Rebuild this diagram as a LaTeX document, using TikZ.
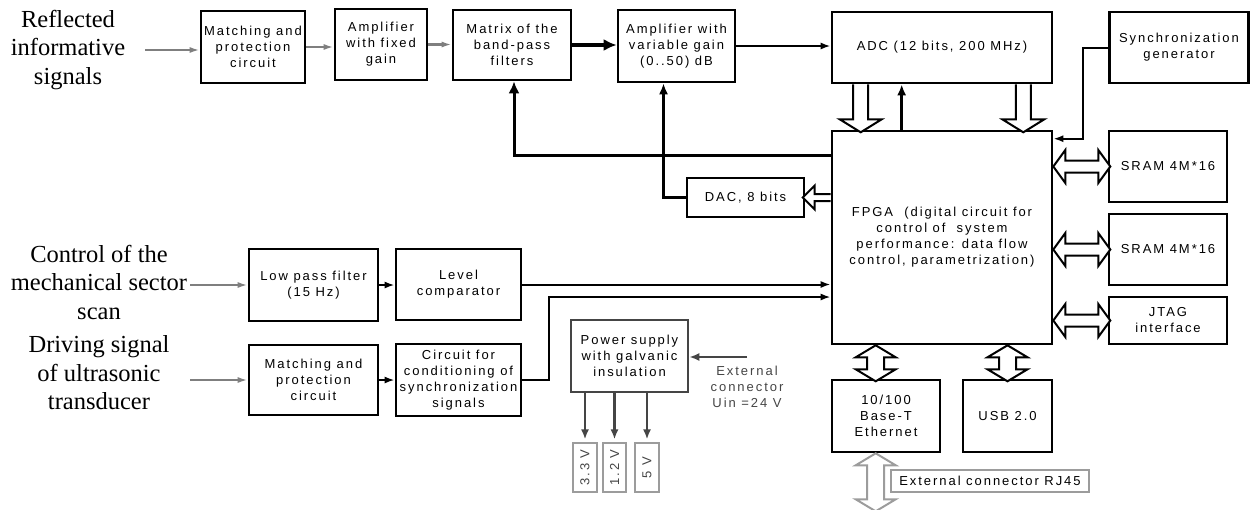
\documentclass[tikz,border=0pt]{standalone}
\usepackage{fontspec}
\setmainfont{Liberation Sans}
\newfontfamily\spacedsans[LetterSpace=15]{Liberation Sans}
\newfontfamily\labelserif{Liberation Serif}
\usetikzlibrary{arrows.meta,calc}
\definecolor{ga}{HTML}{7F7F7F}
\definecolor{dk}{HTML}{454545}
\definecolor{lg}{HTML}{9C9C9C}
\newcommand\boxfont{\spacedsans\fontsize{13}{16}\selectfont}
\newcommand\bigfont{\labelserif\fontsize{24.5}{28.5}\selectfont}
\tikzset{
  box/.style={draw,line width=2.6pt,align=center,font=\boxfont,inner sep=1pt},
  pbox/.style={box,draw=dk},
  vbox/.style={draw=lg,line width=1.2pt,font=\boxfont,text=dk,inner sep=0pt,rotate=90},
  gbox/.style={draw=lg,line width=1.2pt,font=\boxfont,inner sep=0pt},
  lbl/.style={align=center,font=\bigfont},
  garr/.style={draw=ga,line width=2.1pt,-{Latex[length=10pt,width=6pt]}},
  darr/.style={draw=dk,line width=2.3pt,-{Latex[length=10pt,width=8pt]}},
  barr/.style={draw=black,line width=2pt,-{Latex[length=10pt,width=7pt]}},
  marr/.style={draw=black,line width=2.5pt,-{Latex[length=11pt,width=9pt]}},
  tarr/.style={draw=black,line width=3.6pt,-{Latex[length=13pt,width=12pt]}},
  pics/harr/.style n args={4}{code={
    \filldraw[fill=white,line width=2pt]
      (0,#2) -- (#1-#4,#2) -- (#1-#4,#3) -- (#1,0) -- (#1-#4,-#3) -- (#1-#4,-#2) -- (0,-#2);
  }},
  pics/darr/.style n args={4}{code={
    \filldraw[fill=white,line width=2pt]
      (#4,#2) -- (#1-#4,#2) -- (#1-#4,#3) -- (#1,0) -- (#1-#4,-#3) -- (#1-#4,-#2)
      -- (#4,-#2) -- (#4,-#3) -- (0,0) -- (#4,#3) -- cycle;
  }},
}
\begin{document}
\begin{tikzpicture}[x=1pt,y=-1pt]
\useasboundingbox[fill=white] (0,0) rectangle (1251,509);

% left labels
\node[lbl] (lab1) at (68,50) {Reflected\\informative\\signals};
\node[lbl] (lab2) at (99,282) {Control of the\\mechanical sector\\scan};
\node[lbl] (lab3) at (99,373) {Driving signal\\of ultrasonic\\transducer};

% top chain
\node[box,minimum width=104,minimum height=72] (m1) at (253,47) {Matching and\\protection\\circuit};
\node[box,minimum width=92,minimum height=71] (amp1) at (381,44.5) {Amplifier\\with fixed\\gain};
\node[box,minimum width=118,minimum height=70] (mat) at (512,45) {Matrix of the\\band-pass\\filters};
\node[box,minimum width=117,minimum height=72] (amp2) at (676.5,46) {Amplifier with\\variable gain\\(0..50) dB};
\node[box,minimum width=220,minimum height=71] (adc) at (942,47.5) {ADC (12 bits, 200 MHz)};
\node[box,minimum width=139,minimum height=71] (sync) at (1179,47.5) {Synchronization\\generator};

% FPGA and peripherals
\node[box,minimum width=220,minimum height=213,fill=white] (fpga) at (942,237.5) {FPGA\ \ (digital circuit for\\control of\ \ system\\performance: data flow\\control, parametrization)};
\node[box,minimum width=118,minimum height=71] (sram1) at (1168,166.5) {SRAM 4M*16};
\node[box,minimum width=118,minimum height=71] (sram2) at (1168,249.5) {SRAM 4M*16};
\node[box,minimum width=118,minimum height=47] (jtag) at (1168,320.5) {JTAG\\interface};
\node[box,minimum width=108,minimum height=72] (eth) at (886,416) {10/100\\Base-T\\Ethernet};
\node[box,minimum width=89,minimum height=72] (usb) at (1007.5,416) {USB 2.0};
\node[gbox,minimum width=198,minimum height=22] (rj) at (990,481) {External connector RJ45};
\node[box,minimum width=117,minimum height=39] (dac) at (745.5,197.5) {DAC, 8 bits};

% lower chain
\node[box,minimum width=129,minimum height=72] (lpf) at (313.5,285) {Low pass filter\\(15 Hz)};
\node[box,minimum width=125,minimum height=71] (lvl) at (458.5,284.5) {Level\\comparator};
\node[box,minimum width=129,minimum height=70] (m2) at (313.5,380) {Matching and\\protection\\circuit};
\node[box,minimum width=125,minimum height=72] (cond) at (458.5,380) {Circuit for\\conditioning of\\synchronization\\signals};

% power
\node[pbox,minimum width=117,minimum height=72] (pwr) at (629.5,356) {Power supply\\with galvanic\\insulation};
\node[font=\boxfont,text=dk,align=center,inner sep=0pt] (extlbl) at (747,387) {External\\connector\\Uin =24 V};
\node[vbox,minimum width=49,minimum height=24] (v33) at (585,467.5) {3.3 V};
\node[vbox,minimum width=49,minimum height=23] (v12) at (614.5,467.5) {1.2 V};
\node[vbox,minimum width=49,minimum height=24] (v5) at (647,467.5) {5 V};

% input arrows
\coordinate (in1) at (145,50);
\coordinate (in2) at (190,285);
\coordinate (in3) at (190,380);
\draw[garr] (in1) -- (in1 -| m1.west);
\draw[garr] (in2) -- (lpf.west);
\draw[garr] (in3) -- (m2.west);

% top chain arrows
\draw[garr] (m1.east) -- (m1.east -| amp1.west);
\draw[garr] (amp1.east) -- (amp1.east -| mat.west);
\draw[tarr] (mat.east) -- (mat.east -| amp2.west);
\draw[barr] (amp2.east) -- (amp2.east -| adc.west);

% sync -> fpga
\draw[barr] (sync.west) -- ++(-25,0) |- ($(fpga.north east)+(0,9)$);

% fpga -> adc
\coordinate (fa) at ($(fpga.north west)+(71,0)$);
\draw[marr] (fa) -- (fa |- adc.south);

% fpga -> matrix
\draw[tarr,-{Latex[length=12pt,width=11pt]},line width=3pt] ($(fpga.north west)+(0,26)$) -| ($(mat.south)+(2,0)$);

% dac -> amp2
\draw[marr,line width=2.1pt] (dac.west) -| ($(amp2.south)+(-13,0)$);

% lower arrows
\draw[barr] (lpf.east) -- (lpf.east -| lvl.west);
\draw[barr] (lvl.east) -- (lvl.east -| fpga.west);
\draw[barr] (m2.east) -- (m2.east -| cond.west);
\draw[barr] (cond.east) -- ++(27,0) |- ($(fpga.west)+(0,59.5)$);

% power arrows
\coordinate (ext) at (747,357);
\draw[darr] (ext) -- (ext -| pwr.east);
\draw[darr,shorten >=3pt] (pwr.south -| v33.east) -- (v33.east);
\draw[darr,shorten >=3pt] (pwr.south -| v12.east) -- (v12.east);
\draw[darr,shorten >=3pt] (pwr.south -| v5.east) -- (v5.east);

% hollow bus arrows
\pic[rotate=-90] at ($(adc.south west)+(30,0)$) {harr={48}{7.5}{21}{13}};
\pic[rotate=-90] at ($(adc.south east)+(-30,0)$) {harr={48}{7.5}{21}{13}};
\pic[rotate=180] at (fpga.west |- dac) {harr={28}{3.5}{12}{12}};
\pic at (fpga.east |- sram1) {darr={57}{6}{16.5}{12}};
\pic at (fpga.east |- sram2) {darr={57}{6}{16.5}{12}};
\pic at (fpga.east |- jtag) {darr={57}{6}{16.5}{12}};
\coordinate (ex) at ($(eth.north west)+(45,0)$);
\pic[rotate=-90] at (ex |- fpga.south) {darr={36}{8.5}{20}{12}};
\pic[rotate=-90] at (usb |- fpga.south) {darr={36}{8.5}{20}{12}};
\pic[rotate=-90,color=lg] at (ex |- eth.south) {darr={58}{8.5}{20}{12}};
\end{tikzpicture}
\end{document}
